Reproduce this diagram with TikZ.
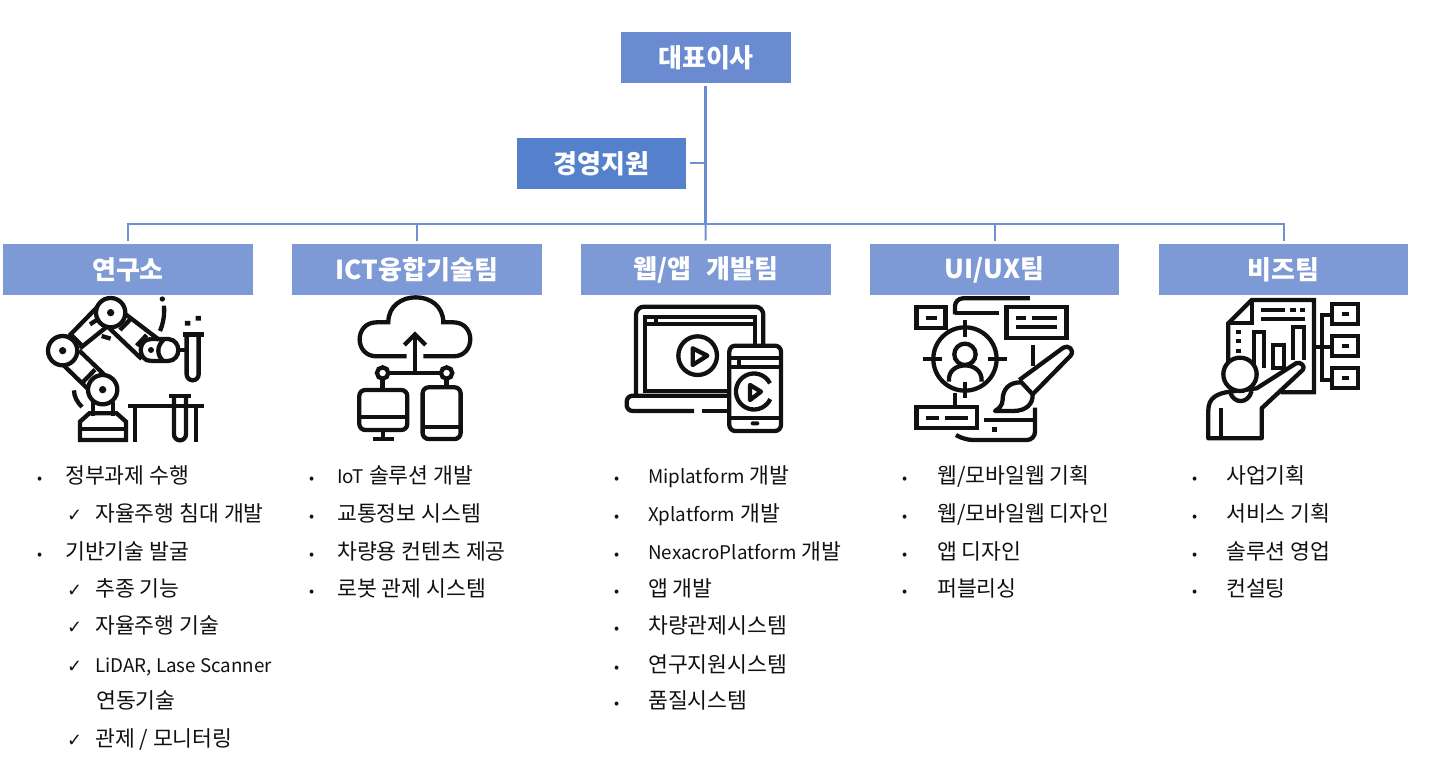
\documentclass[tikz,border=0pt]{standalone}
\usepackage{fontspec}
\setmainfont{Noto Sans CJK KR}
\newfontfamily\symfont{DejaVu Sans}
\definecolor{ceoblue}{HTML}{6A8AD2}
\definecolor{supportblue}{HTML}{5580CB}
\definecolor{teamblue}{HTML}{7E9AD6}
\definecolor{linkblue}{HTML}{7090D4}
\definecolor{inkblack}{HTML}{111111}
\newcommand{\bul}[1][25pt]{\makebox[#1][l]{\fontsize{15}{15}\selectfont •}}
\newcommand{\chk}{\makebox[28pt][l]{\symfont\fontsize{18}{18}\selectfont ✓}}
\newcommand{\lat}[1]{{\fontsize{18.8}{24}\selectfont #1}}
\tikzset{
    box/.style={minimum height=51pt, inner sep=0pt, outer sep=3.5pt, text=white, font=\fontsize{26}{28}\selectfont\bfseries},
    team/.style={box, fill=teamblue, minimum width=249.6pt},
    listitem/.style={anchor=base west, inner sep=0pt, text=inkblack, font=\fontsize{21.6}{24}\selectfont},
    link/.style={linkblue, line width=2pt},
    icon/.style={line width=4.3pt, line cap=butt, line join=miter, inkblack},
}
\begin{document}
\begin{tikzpicture}[x=1pt, y=-1pt]
    \useasboundingbox (0,0) rectangle (1431,765);

    % Top of the chart
    \node[box, fill=ceoblue, minimum width=170pt] (ceo) at (706,57.5) {대표이사};
    \node[box, fill=supportblue, minimum width=169pt] (support) at (601.5,163.3) {경영지원};
    \coordinate (branch) at (705.5,163.3);
    \coordinate (bus) at (705.5,224);

    % Teams
    \node[team] (lab) at (128,269.5) {연구소};
    \node[team] (ict) at (417,269.5) {ICT융합기술팀};
    \node[team] (web) at (706,269.5) {웹/앱\hspace{9pt} 개발팀};
    \node[team] (ux) at (994.5,269.5) {UI/UX팀};
    \node[team] (biz) at (1283.5,269.5) {비즈팀};

    % Connectors
    \draw[link, line width=2.8pt, ceoblue] (ceo.south -| bus) -- (bus);
    \draw[link] (support) -- (branch);
    \draw[link] (bus) -| (lab);
    \draw[link] (bus) -| (ict);
    \draw[link] (bus) -- (web);
    \draw[link] (bus) -| (ux);
    \draw[link] (bus) -| (biz);

    % Lists
    \node[listitem] (lab1) at (37,483) {\bul[28pt]정부과제 수행};
    \node[listitem] (lab2) at (67,521) {\chk 자율주행 침대 개발};
    \node[listitem] (lab3) at (37,559) {\bul[28pt]기반기술 발굴};
    \node[listitem] (lab4) at (67,596) {\chk 추종 기능};
    \node[listitem] (lab5) at (67,633) {\chk 자율주행 기술};
    \node[listitem] (lab6) at (67,672) {\chk \lat{LiDAR, Lase Scanner}};
    \node[listitem] (lab7) at (96,708) {연동기술};
    \node[listitem] (lab8) at (67,746) {\chk 관제 / 모니터링};

    \node[listitem] (ict1) at (309,483) {\bul[28pt]\lat{IoT} 솔루션 개발};
    \node[listitem] (ict2) at (309,521) {\bul[28pt]교통정보 시스템};
    \node[listitem] (ict3) at (309,559) {\bul[28pt]차량용 컨텐츠 제공};
    \node[listitem] (ict4) at (309,596) {\bul[28pt]로봇 관제 시스템};

    \node[listitem] (web1) at (614,483) {\bul[34pt]\lat{Miplatform} 개발};
    \node[listitem] (web2) at (614,521) {\bul[34pt]\lat{Xplatform} 개발};
    \node[listitem] (web3) at (614,559) {\bul[34pt]\lat{NexacroPlatform} 개발};
    \node[listitem] (web4) at (614,596) {\bul[34pt]앱 개발};
    \node[listitem] (web5) at (614,633) {\bul[34pt]차량관제시스템};
    \node[listitem] (web6) at (614,672) {\bul[34pt]연구지원시스템};
    \node[listitem] (web7) at (614,708) {\bul[34pt]품질시스템};

    \node[listitem] (ux1) at (902,483) {\bul[35pt]웹/모바일웹 기획};
    \node[listitem] (ux2) at (902,521) {\bul[35pt]웹/모바일웹 디자인};
    \node[listitem] (ux3) at (902,559) {\bul[35pt]앱 디자인};
    \node[listitem] (ux4) at (902,596) {\bul[35pt]퍼블리싱};

    \node[listitem] (biz1) at (1192,483) {\bul[34pt]사업기획};
    \node[listitem] (biz2) at (1192,521) {\bul[34pt]서비스 기획};
    \node[listitem] (biz3) at (1192,559) {\bul[34pt]솔루션 영업};
    \node[listitem] (biz4) at (1192,596) {\bul[34pt]컨설팅};

    % Robot arm
    \begin{scope}[shift={(0,285)}, x=0.3333pt, y=-0.3333pt, icon]
        \draw (332,83) circle (44); \fill (332,83) circle (11);
        \draw (188,197) circle (44); \fill (188,197) circle (11);
        \draw (308,314) circle (44); \fill (308,314) circle (11);
        \draw (208,152) -- (292,66) (240,190) -- (322,124);
        \draw (214,150) -- (244,180) (270,118) -- (298,100);
        \draw (372,84) -- (478,165) (322,124) -- (425,222);
        \draw (360,135) -- (392,102) (410,182) -- (440,150);
        \draw (238,197) -- (312,268) (190,240) -- (264,312);
        \draw (250,290) -- (285,254);
        \draw (453,162) -- (505,162) .. controls (545,165) and (545,226) .. (505,228) -- (453,228);
        \draw (453,162) .. controls (412,162) and (412,228) .. (453,228);
        \draw (490,165) .. controls (470,185) and (470,210) .. (490,228);
        \fill (453,195) circle (9);
        \draw (535,195) -- (565,195);
        \draw[line width=5pt] (548,150) -- (612,150);
        \draw (560,150) -- (560,268) arc (180:0:18) -- (596,150);
        \fill (555,108) rectangle (571,122) (587,93) rectangle (603,107);
        \fill (487,42) circle (8);
        \draw (492,62) .. controls (494,90) and (490,115) .. (480,138);
        \draw (305,153) -- (332,161);
        \draw (222,316) .. controls (222,335) and (232,352) .. (246,366);
        \draw (278,350) -- (278,392) (338,350) -- (338,392);
        \draw (240,465) -- (240,410) -- (268,385) -- (350,385) -- (378,410) -- (378,465) -- cycle;
        \draw (240,432) -- (378,432);
        \draw (383,362) -- (612,362);
        \draw (405,362) -- (405,470) (588,362) -- (588,470);
        \draw (508,332) -- (572,332);
        \draw (522,332) -- (522,448) arc (180:0:18) -- (558,332);
    \end{scope}

    % Cloud with computers
    \begin{scope}[shift={(0,285)}, x=0.3333pt, y=-0.3333pt, icon]
        \draw (1220,214) -- (1130,214) .. controls (1062,214) and (1062,112) .. (1130,112) -- (1165,112)
            .. controls (1165,12) and (1330,12) .. (1330,112) -- (1360,112)
            .. controls (1428,112) and (1428,214) .. (1360,214) -- (1270,214);
        \draw (1245,264) -- (1245,148);
        \draw (1213,180) -- (1245,148) -- (1277,180);
        \draw (1165,264) -- (1322,264);
        \draw (1148,264) circle (17) (1340,264) circle (17);
        \draw (1148,282) -- (1148,315) (1340,282) -- (1340,305);
        \draw[rounded corners=6pt] (1078,315) rectangle (1222,435);
        \draw (1078,397) -- (1222,397);
        \draw (1150,435) -- (1150,462) (1118,462) -- (1182,462);
        \draw[rounded corners=6pt] (1268,307) rectangle (1382,462);
        \draw (1268,425) -- (1382,425);
    \end{scope}

    % Laptop and phone
    \begin{scope}[shift={(600,285)}, x=0.3333pt, y=-0.3333pt, icon]
        \draw[rounded corners=8pt] (108,330) -- (108,65) -- (490,65) -- (490,180);
        \draw (465,180) -- (465,95) -- (135,95) -- (135,318) -- (385,318);
        \draw (135,118) -- (465,118) (168,95) -- (168,118);
        \draw[rounded corners=6pt] (385,332) -- (80,332) -- (80,378) -- (282,378);
        \draw (306,378) -- (385,378);
        \draw (293,212) circle (58);
        \draw[line join=round] (278,190) -- (322,212) -- (278,240) -- cycle;
        \draw[rounded corners=6pt] (388,182) rectangle (543,438);
        \draw (390,218) -- (541,218) (390,245) -- (541,245) (416,218) -- (416,245);
        \draw (390,398) -- (541,398);
        \fill[rounded corners=2pt] (452,409) rectangle (478,421);
        \draw (510,295) arc (-27:-335:54);
        \draw[line join=round] (450,300) -- (483,320) -- (450,345) -- cycle;
    \end{scope}

    % Target, boxes and brush
    \begin{scope}[shift={(600,285)}, x=0.3333pt, y=-0.3333pt, icon]
        \draw[rounded corners=8pt] (1290,40) -- (1065,40) -- (1065,88);
        \draw (1065,85) -- (1198,85);
        \draw (950,67) rectangle (1037,130);
        \draw (978,98) -- (1010,98);
        \draw (1220,67) rectangle (1400,158);
        \draw (1248,98) -- (1278,98) (1295,98) -- (1370,98) (1248,127) -- (1370,127);
        \draw (1095,222) circle (95);
        \draw (1095,105) -- (1095,155) (1095,290) -- (1095,338) (970,222) -- (1025,222) (1165,222) -- (1220,222);
        \draw (1095,208) circle (32);
        \draw (1047,290) .. controls (1040,225) and (1150,225) .. (1145,290);
        \draw (1065,325) -- (1065,365);
        \draw (950,365) rectangle (1132,430);
        \draw (978,398) -- (1018,398) (1035,398) -- (1105,398);
        \draw (1300,180) -- (1300,242);
        \draw[line join=round] (1258,285) -- (1390,188) .. controls (1405,178) and (1425,195) .. (1412,212) -- (1298,328);
        \draw[line join=round] (1262,292) .. controls (1225,292) and (1208,315) .. (1208,345)
            .. controls (1208,362) and (1195,372) .. (1185,378) -- (1240,378)
            .. controls (1280,378) and (1300,355) .. (1298,328) -- (1258,285);
        \draw[rounded corners=8pt] (1305,368) -- (1305,465) -- (1095,465) -- (1068,450);
        \draw (1152,405) -- (1305,405);
        \fill (1175,426) rectangle (1191,441);
    \end{scope}

    % Report and presenter
    \begin{scope}[shift={(1150,285)}, x=0.3333pt, y=-0.3333pt, icon]
        \draw (235,240) -- (235,115) -- (305,45) -- (492,45) -- (492,322) -- (392,322);
        \draw (305,45) -- (305,115) -- (235,115);
        \draw (333,75) -- (405,75) (420,75) -- (438,75) (450,75) -- (465,75) (333,102) -- (465,102);
        \draw (258,142) -- (272,142) (258,168) -- (272,168) (258,197) -- (272,197);
        \draw (312,240) -- (312,142) -- (342,142) -- (342,250);
        \draw (368,248) rectangle (402,180);
        \draw (430,225) -- (430,125) -- (462,125) -- (462,225);
        \draw[fill=white, line join=round] (175,460) -- (175,375) .. controls (175,340) and (200,325) .. (240,320)
            -- (320,310) -- (438,235) .. controls (452,228) and (468,245) .. (458,255) -- (335,370) -- (335,460) -- cycle;
        \draw[fill=white] (270,268) circle (50);
        \draw (240,320) .. controls (250,358) and (295,358) .. (305,318);
        \draw (213,370) -- (213,458);
        \draw (492,185) -- (515,185) (545,90) -- (515,90) -- (515,285) -- (545,285) (515,185) -- (545,185);
        \draw (545,58) rectangle (625,118) (545,152) rectangle (625,212) (545,248) rectangle (625,310);
        \draw (575,88) -- (598,88) (575,182) -- (598,182) (575,278) -- (598,278);
    \end{scope}
\end{tikzpicture}
\end{document}
